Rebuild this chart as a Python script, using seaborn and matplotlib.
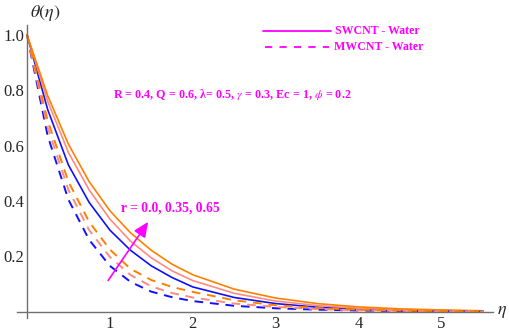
import numpy as np
import pandas as pd
import matplotlib
matplotlib.use("Agg")
import matplotlib.pyplot as plt
import seaborn as sns
from matplotlib.ticker import MultipleLocator, FixedLocator

sns.set_style("white")
plt.rcParams['font.family'] = ['Liberation Serif', 'DejaVu Serif']
plt.rcParams['mathtext.fontset'] = 'stix'

eta = [0, 0.25, 0.5, 0.75, 1.0, 1.25, 1.5, 1.75, 2.0, 2.5, 3.0, 3.5, 4.0, 4.5, 5.0, 5.5]

# SWCNT - Water (solid)
sw_r000 = [1.0, 0.73, 0.53, 0.395, 0.295, 0.222, 0.166, 0.124, 0.09, 0.052, 0.03, 0.017, 0.010, 0.006, 0.003, 0.002]
sw_r035 = [1.0, 0.76, 0.575, 0.44, 0.335, 0.255, 0.195, 0.148, 0.113, 0.067, 0.039, 0.023, 0.013, 0.008, 0.005, 0.003]
sw_r065 = [1.0, 0.78, 0.605, 0.47, 0.365, 0.285, 0.222, 0.172, 0.134, 0.082, 0.05, 0.03, 0.018, 0.011, 0.007, 0.004]
# MWCNT - Water (dashed)
mw_r000 = [1.0, 0.635, 0.405, 0.26, 0.166, 0.108, 0.073, 0.053, 0.039, 0.022, 0.013, 0.008, 0.005, 0.003, 0.002, 0.001]
mw_r035 = [1.0, 0.665, 0.44, 0.295, 0.198, 0.133, 0.092, 0.068, 0.052, 0.03, 0.018, 0.010, 0.006, 0.004, 0.002, 0.001]
mw_r065 = [1.0, 0.69, 0.47, 0.325, 0.225, 0.155, 0.115, 0.09, 0.072, 0.042, 0.024, 0.014, 0.008, 0.005, 0.003, 0.002]

r_labels = ["0.0", "0.35", "0.65"]
colors = ["#1010ff", "#ff8a80", "#ff8000"]
magenta = "#ff00ff"

fig = plt.figure(figsize=(5.10, 3.32), dpi=100)
W, H = 510, 332
xmin, xmax = -0.12, 5.62
ymin, ymax = -0.022, 1.035
ax = fig.add_axes([17 / W, (H - 318) / H, (493 - 17) / W, (318 - 25) / H])

for ys, c in zip([sw_r000, sw_r035, sw_r065], colors):
    sns.lineplot(x=eta, y=ys, ax=ax, color=c, lw=1.2)
for ys, c in zip([mw_r000, mw_r035, mw_r065], colors):
    sns.lineplot(x=eta, y=ys, ax=ax, color=c, lw=1.4, linestyle=(0, (4.5, 3.5)))

ax.set_xlim(xmin, xmax)
ax.set_ylim(ymin, ymax)

for s in ['top', 'right']:
    ax.spines[s].set_visible(False)
ax.spines['left'].set_position(('data', 0))
ax.spines['bottom'].set_position(('data', 0))
for s in ['left', 'bottom']:
    ax.spines[s].set_color('#707070')
    ax.spines[s].set_linewidth(1.0)

ax.xaxis.set_major_locator(FixedLocator([1, 2, 3, 4, 5]))
ax.yaxis.set_major_locator(FixedLocator([0.2, 0.4, 0.6, 0.8, 1.0]))
ax.xaxis.set_minor_locator(MultipleLocator(0.2))
ax.yaxis.set_minor_locator(MultipleLocator(0.05))
ax.set_xticklabels(["1", "2", "3", "4", "5"])
ax.set_yticklabels(["0.2", "0.4", "0.6", "0.8", "1.0"])
ax.tick_params(which='major', direction='in', length=4, width=0.8, color='#606060',
               labelsize=12, pad=3)
ax.tick_params(which='minor', direction='in', length=2.2, width=0.6, color='#606060')
ax.tick_params(axis='y', pad=2)

# axis labels
fig.text(30 / W, 1 - 13 / H, r"$\theta(\eta)$", fontsize=13, va='center', ha='left')
fig.text(497 / W, 1 - 311 / H, r"$\eta$", fontsize=13, va='center', ha='left')

# legend (manual, Mathematica style)
ax.plot([2.85, 3.67], [1.014, 1.014], color=magenta, lw=1.3, clip_on=False)
ax.plot([2.87, 3.64], [0.954, 0.954], color=magenta, lw=1.3, linestyle=(0, (4, 4)),
        clip_on=False)
ax.text(3.72, 1.014, "SWCNT - Water", color=magenta, fontsize=8.6, fontweight='bold',
        va='center', ha='left')
ax.text(3.70, 0.954, "MWCNT - Water", color=magenta, fontsize=8.6, fontweight='bold',
        va='center', ha='left')

ax.text(1.04, 0.785, "R = 0.4, Q = 0.6, λ= 0.5, $\\gamma$ = 0.3, Ec = 1, $\\phi$ = 0.2",
        color=magenta, fontsize=8.7, fontweight='bold', va='center', ha='left')

ax.text(1.14, 0.375, "r = 0.0, 0.35, 0.65", color=magenta, fontsize=9.8,
        fontweight='bold', va='center', ha='left')
ax.annotate("", xy=(1.48, 0.333), xytext=(0.96, 0.105),
            arrowprops=dict(arrowstyle='-|>,head_length=0.9,head_width=0.4',
                            color=magenta, lw=1.2))

fig.savefig("out.png", dpi=100)
